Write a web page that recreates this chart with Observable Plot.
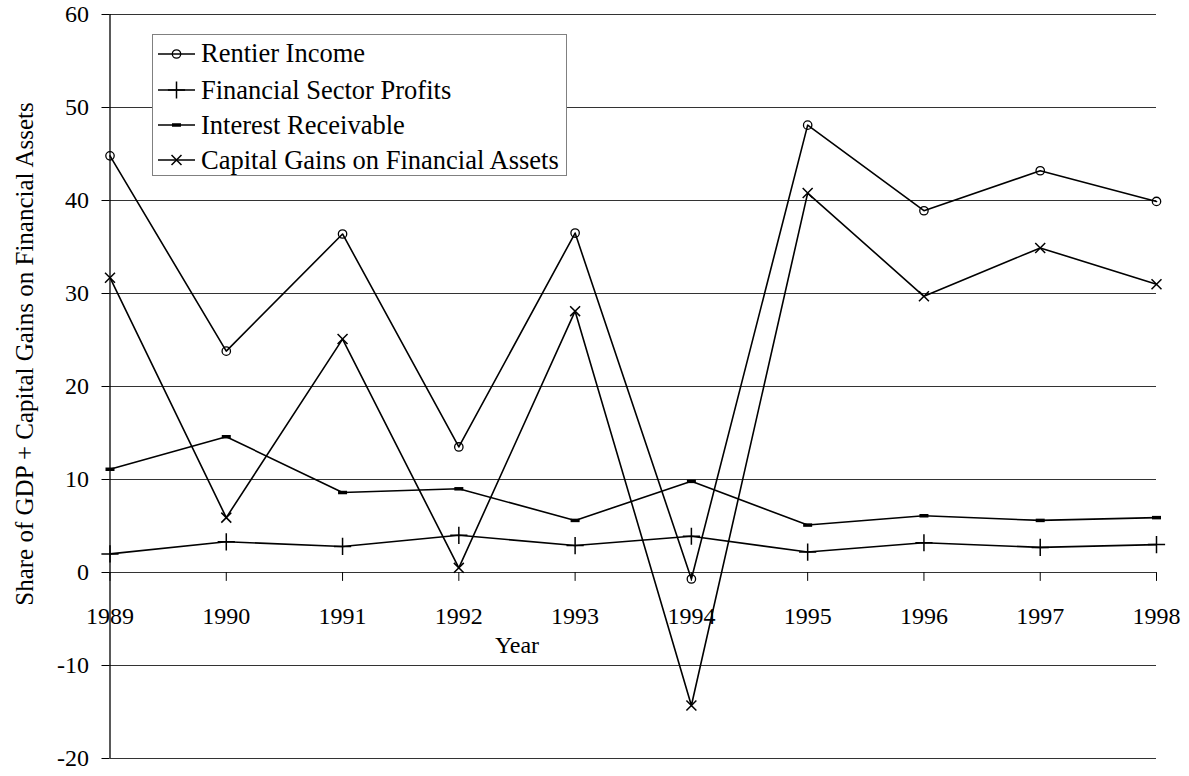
<!DOCTYPE html>
<html>
<head>
<meta charset="utf-8">
<script src="https://cdn.jsdelivr.net/npm/d3@7"></script>
<script src="https://cdn.jsdelivr.net/npm/@observablehq/plot@0.6"></script>
<style>
  html, body { margin: 0; padding: 0; background: #fff; }
  #wrap { position: relative; width: 1189px; height: 776px; font-family: 'Liberation Serif', 'Times New Roman', serif; color: #000; }
  #chart svg { display: block; }
  .ylabel { position: absolute; left: 25px; top: 354px; transform: translate(-50%, -50%) rotate(-90deg); white-space: nowrap; font-size: 25px; }
  .xlabel { position: absolute; left: 517px; top: 645px; transform: translate(-50%, -50%); white-space: nowrap; font-size: 24px; }
  .legend { position: absolute; left: 152px; top: 34px; width: 413px; height: 140px; border: 1px solid #808080; background: #fff; }
  .legend .row { position: absolute; left: 5px; height: 30px; display: flex; align-items: center; font-size: 26.5px; white-space: nowrap; }
  .legend svg { margin-right: 6px; }
</style>
</head>
<body>
<div id="wrap">
  <div id="chart"></div>
  <div class="ylabel">Share of GDP + Capital Gains on Financial Assets</div>
  <div class="xlabel">Year</div>
  <div class="legend" id="legend"></div>
</div>
<script>
const years = [1989, 1990, 1991, 1992, 1993, 1994, 1995, 1996, 1997, 1998];
const rentierIncome = [44.8, 23.8, 36.4, 13.5, 36.5, -0.7, 48.1, 38.9, 43.2, 39.9];
const financialSectorProfits = [2.0, 3.3, 2.8, 4.0, 2.9, 3.9, 2.2, 3.2, 2.7, 3.0];
const interestReceivable = [11.1, 14.6, 8.6, 9.0, 5.6, 9.8, 5.1, 6.1, 5.6, 5.9];
const capitalGains = [31.7, 5.9, 25.1, 0.5, 28.1, -14.3, 40.8, 29.7, 34.9, 31.0];
const yTicks = [-20, -10, 0, 10, 20, 30, 40, 50, 60];
const seriesNames = ["Rentier Income", "Financial Sector Profits", "Interest Receivable", "Capital Gains on Financial Assets"];

const dash = { draw(ctx) { ctx.rect(-4.5, -1.75, 9, 3.5); } };
const seriesValues = [rentierIncome, financialSectorProfits, interestReceivable, capitalGains];
const markerStyles = [
  { symbol: "circle", r: 4.2, fill: "none", stroke: "#000", strokeWidth: 1.3 },
  { symbol: "plus", r: 5.6, fill: "none", stroke: "#000", strokeWidth: 1.5 },
  { symbol: dash, r: 4, fill: "#000", stroke: "none" },
  { symbol: "times", r: 4.6, fill: "none", stroke: "#000", strokeWidth: 1.5 }
];

const data = seriesNames.flatMap((name, s) => years.map((year, i) => ({ year, value: seriesValues[s][i], series: name })));

const tickShape = { draw(ctx, l) { ctx.moveTo(0, 0); ctx.lineTo(0, l); } };

const plot = Plot.plot({
  width: 1189,
  height: 776,
  marginLeft: 109.5,
  marginRight: 33,
  marginTop: 14,
  marginBottom: 18,
  style: { fontFamily: "'Liberation Serif', 'Times New Roman', serif", fontSize: "24px", background: "#fff", color: "#000" },
  x: { domain: [1989, 1998], axis: null },
  y: { domain: [-20, 60] },
  marks: [
    Plot.ruleY(yTicks, { stroke: "#000", strokeWidth: 1, strokeOpacity: 0.8 }),
    Plot.ruleX([1989], { stroke: "#000", strokeWidth: 1.3 }),
    Plot.axisY({ ticks: yTicks, tickSize: 8, tickPadding: 13, fontSize: 24, label: null, tickFormat: d => String(d), stroke: "#000" }),
    Plot.vector(years, { x: d => d, y: 0, length: 8, anchor: "start", shape: tickShape, stroke: "#000", strokeWidth: 1 }),
    Plot.text(years, { x: d => d, y: 0, dy: 44, text: d => String(d), fontSize: 24, lineAnchor: "middle", fill: "#000" }),
    Plot.line(data, { x: "year", y: "value", z: "series", stroke: "#000", strokeWidth: 1.6 }),
    ...seriesNames.map((name, s) => Plot.dot(data.filter(d => d.series === name), { x: "year", y: "value", ...markerStyles[s] }))
  ]
});
document.getElementById("chart").appendChild(plot);

// legend
const legend = d3.select("#legend");
const rowTops = [3.5, 40, 75, 110];
seriesNames.forEach((name, s) => {
  const row = legend.append("div").attr("class", "row").style("top", rowTops[s] + "px");
  const svg = row.append("svg").attr("width", 37).attr("height", 30);
  svg.append("line").attr("x1", 0).attr("x2", 37).attr("y1", 15).attr("y2", 15).attr("stroke", "#000").attr("stroke-width", 1.6);
  const m = markerStyles[s];
  const symType = typeof m.symbol === "string" ? ({ circle: d3.symbolCircle, plus: d3.symbolPlus, times: d3.symbolTimes })[m.symbol] : m.symbol;
  svg.append("path").attr("transform", "translate(18.5,15)")
    .attr("d", d3.symbol(symType, m.r * m.r * Math.PI)())
    .attr("fill", m.fill).attr("stroke", m.stroke).attr("stroke-width", m.strokeWidth || 0);
  row.append("span").text(name);
});
</script>
</body>
</html>
